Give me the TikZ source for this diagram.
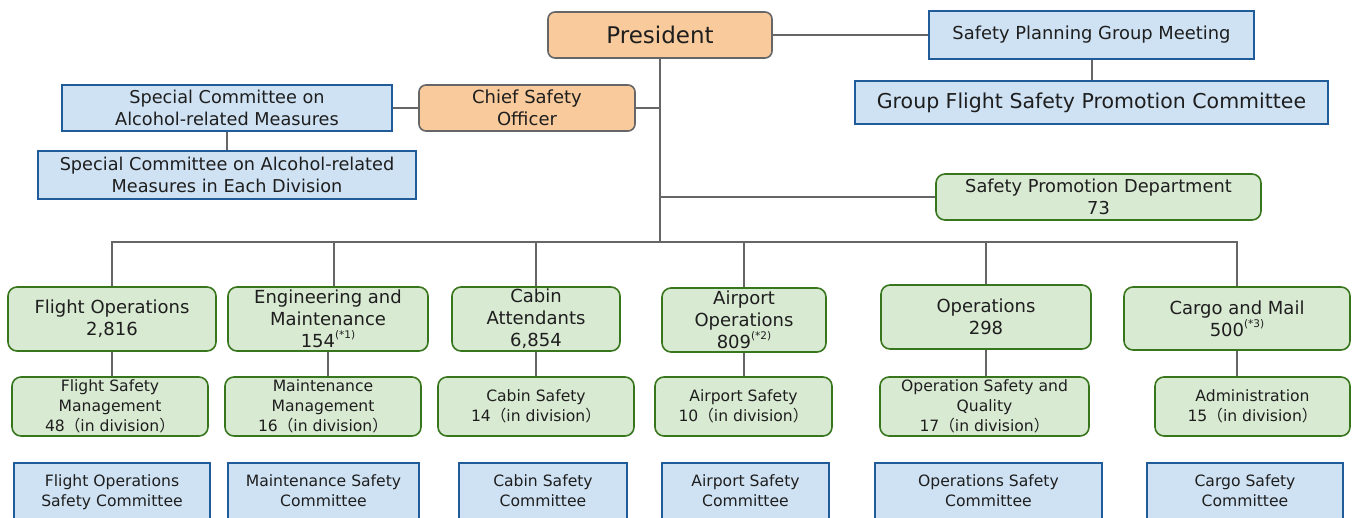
\documentclass[tikz,border=0pt]{standalone}
\usepackage{fontspec}
\setmainfont{DejaVu Sans}
\newfontfamily\cjk{Noto Sans CJK JP}
\newcommand{\lp}{{\cjk （}}
\newcommand{\rp}{{\cjk ）}}
\newcommand{\supnote}[1]{\raisebox{0.5em}{\fontsize{10.5}{11}\selectfont #1}}
\definecolor{txt}{HTML}{1E1E1E}
\definecolor{lin}{HTML}{666666}
\definecolor{ofill}{HTML}{F9CB9C}
\definecolor{bfill}{HTML}{CFE2F3}
\definecolor{bdraw}{HTML}{1F5C99}
\definecolor{gfill}{HTML}{D9EAD3}
\definecolor{gdraw}{HTML}{38761D}
\tikzset{
  conn/.style={draw=lin, line width=2pt},
  obox/.style={draw=lin, fill=ofill, line width=1.6pt, rounded corners=7pt},
  bbox/.style={draw=bdraw, fill=bfill, line width=1.6pt},
  gbox/.style={draw=gdraw, fill=gfill, line width=1.6pt, rounded corners=9pt},
  mainf/.style={font=\fontsize{18}{21.8}\selectfont},
  subf/.style={font=\fontsize{15.6}{19.7}\selectfont},
}
\newcommand{\bottomtext}[2]{\parbox[c][72pt][t]{#1}{\centering\vspace*{12pt}#2\par}}
\begin{document}
\begin{tikzpicture}[x=1pt,y=-1pt, every node/.style={inner sep=0pt, text=txt, align=center}]
\useasboundingbox (0,0) rectangle (1354,517);
\clip (0,0) rectangle (1354,517);
% top
\node[obox, minimum width=224pt, minimum height=46pt, font=\fontsize{23}{27}\selectfont] (pres) at (660,35) {President};
\node[bbox, minimum width=325pt, minimum height=48pt, font=\fontsize{17.9}{21}\selectfont] (spg) at (1091.5,35) {Safety Planning Group Meeting};
\node[bbox, minimum width=473pt, minimum height=43pt, font=\fontsize{20.5}{24}\selectfont] (gfs) at (1091.5,102.5) {Group Flight Safety Promotion Committee};
\node[obox, minimum width=216pt, minimum height=46pt, mainf] (cso) at (527,108) {Chief Safety\\Officer};
\node[bbox, minimum width=330pt, minimum height=46pt, font=\fontsize{17.7}{21.5}\selectfont] (sca) at (227,108) {Special Committee on\\Alcohol-related Measures};
\node[bbox, minimum width=378pt, minimum height=48pt, font=\fontsize{17.7}{21.5}\selectfont] (scd) at (227,175) {Special Committee on Alcohol-related\\Measures in Each Division};
\node[gbox, minimum width=325pt, minimum height=46pt, font=\fontsize{17.8}{21.5}\selectfont] (spd) at (1098.5,197) {Safety Promotion Department\\73};
\coordinate (j) at (660,242);
% divisions
\node[gbox, minimum width=208pt, minimum height=64pt, mainf] (fo) at (112,319) {Flight Operations\\2,816};
\node[gbox, minimum width=200pt, minimum height=64pt, mainf] (em) at (328,319) {Engineering and\\Maintenance\\154\supnote{(*1)}};
\node[gbox, minimum width=168pt, minimum height=64pt, mainf] (ca) at (536,319) {Cabin\\Attendants\\6,854};
\node[gbox, minimum width=164pt, minimum height=64pt, mainf] (ao) at (744,320) {Airport\\Operations\\809\supnote{(*2)}};
\node[gbox, minimum width=210pt, minimum height=64pt, mainf] (op) at (986,317) {Operations\\298};
\node[gbox, minimum width=226pt, minimum height=63pt, mainf] (cm) at (1237,318.5) {Cargo and Mail\\500\supnote{(*3)}};
% sub units
\node[gbox, minimum width=196pt, minimum height=59pt, subf] (fsm) at (110,406.5) {Flight Safety\\Management\\48\lp in division\rp};
\node[gbox, minimum width=196pt, minimum height=59pt, subf] (mm) at (323,406.5) {Maintenance\\Management\\16\lp in division\rp};
\node[gbox, minimum width=196pt, minimum height=59pt, subf] (cs) at (536,406.5) {Cabin Safety\\14\lp in division\rp};
\node[gbox, minimum width=177pt, minimum height=59pt, subf] (as) at (743.5,406.5) {Airport Safety\\10\lp in division\rp};
\node[gbox, minimum width=209pt, minimum height=59pt, subf] (osq) at (984.5,406.5) {Operation Safety and\\Quality\\17\lp in division\rp};
\node[gbox, minimum width=195pt, minimum height=59pt, subf] (adm) at (1252.5,406.5) {Administration\\15\lp in division\rp};
% committees (cut by the lower edge)
\node[bbox, minimum width=196pt, minimum height=72pt, subf] (foc) at (112,499) {\bottomtext{196pt}{Flight Operations\\Safety Committee}};
\node[bbox, minimum width=191pt, minimum height=72pt, subf] (msc) at (323.5,499) {\bottomtext{191pt}{Maintenance Safety\\Committee}};
\node[bbox, minimum width=168pt, minimum height=72pt, subf] (csc) at (543,499) {\bottomtext{168pt}{Cabin Safety\\Committee}};
\node[bbox, minimum width=167pt, minimum height=72pt, subf] (asc) at (745.5,499) {\bottomtext{167pt}{Airport Safety\\Committee}};
\node[bbox, minimum width=227pt, minimum height=72pt, subf] (osc) at (988.5,499) {\bottomtext{227pt}{Operations Safety\\Committee}};
\node[bbox, minimum width=196pt, minimum height=72pt, subf] (cgc) at (1245,499) {\bottomtext{196pt}{Cargo Safety\\Committee}};
% connectors
\draw[conn] (pres.east) -- (pres.east -| spg.west);
\draw[conn] (spg.south) -- (gfs.north);
\draw[conn] (pres.south) -- (j);
\draw[conn] (cso.east) -- (cso.east -| pres.south);
\draw[conn] (sca.east) -- (cso.west);
\draw[conn] (sca.south) -- (scd.north);
\draw[conn] (spd.west -| pres.south) -- (spd.west);
\draw[conn] ([xshift=-1pt]fo.north |- j) -- ([xshift=1pt]cm.north |- j);
\draw[conn] (fo.north |- j) -- (fo.north);
\draw[conn] ([xshift=6pt]em.north |- j) -- ([xshift=6pt]em.north);
\draw[conn] (ca.north |- j) -- (ca.north);
\draw[conn] (ao.north |- j) -- (ao.north);
\draw[conn] (op.north |- j) -- (op.north);
\draw[conn] (cm.north |- j) -- (cm.north);
\draw[conn] (fo.south) -- (fo.south |- fsm.north);
\draw[conn] (em.south) -- (em.south |- mm.north);
\draw[conn] (ca.south) -- (ca.south |- cs.north);
\draw[conn] (ao.south) -- (ao.south |- as.north);
\draw[conn] (op.south) -- (op.south |- osq.north);
\draw[conn] (cm.south) -- (cm.south |- adm.north);
\end{tikzpicture}
\end{document}
